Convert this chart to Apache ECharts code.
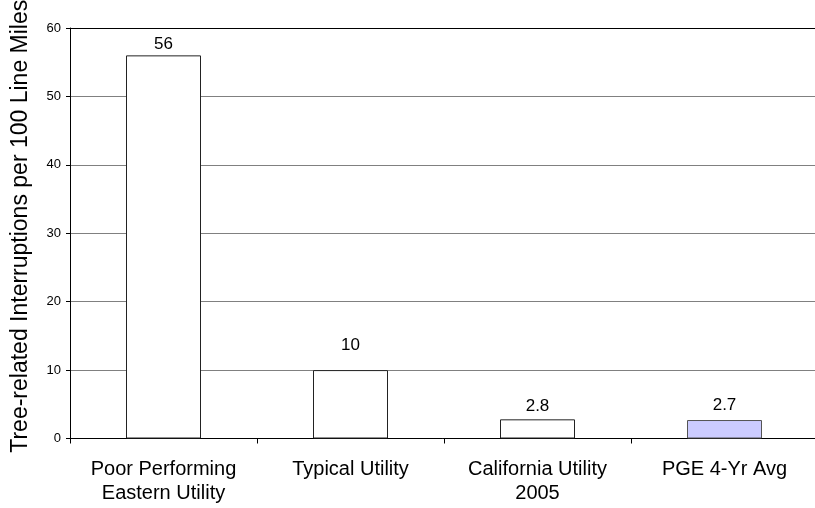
<!DOCTYPE html>
<html>
<head>
<meta charset="utf-8">
<script src="https://cdn.jsdelivr.net/npm/echarts@6/dist/echarts.min.js"></script>
<style>
  html, body { margin: 0; padding: 0; background: #fff; }
  #chart { width: 815px; height: 508px; }
</style>
</head>
<body>
<div id="chart"></div>
<script>
// Tree-related interruptions per 100 line miles, by utility
const categories = ['Poor Performing\nEastern Utility', 'Typical Utility', 'California Utility\n2005', 'PGE 4-Yr Avg'];
const values = [56, 10, 2.8, 2.7];
const barFills = ['#ffffff', '#ffffff', '#ffffff', '#ccccff'];
const labelGaps = [3, 16, 5, 6];
const yTicks = [0, 10, 20, 30, 40, 50, 60];

const FONT = 'Liberation Sans, Arial, sans-serif';

const chart = echarts.init(document.getElementById('chart'), null, { renderer: 'canvas' });

chart.setOption({
  animation: false,
  backgroundColor: '#ffffff',
  grid: {
    left: 70, top: 28, width: 748, bottom: 69.5,
    containLabel: false,
    outerBoundsMode: 'none'
  },
  xAxis: {
    type: 'category',
    data: categories,
    boundaryGap: true,
    axisLine: { lineStyle: { color: '#000', width: 1 } },
    axisTick: { show: true, length: 5, lineStyle: { color: '#000' } },
    axisLabel: {
      color: '#000', fontFamily: FONT, fontSize: 20, lineHeight: 24, margin: 19,
      interval: 0
    },
    splitLine: { show: false }
  },
  yAxis: {
    type: 'value',
    min: yTicks[0],
    max: yTicks[yTicks.length - 1],
    interval: 10,
    name: 'Tree-related Interruptions per 100 Line Miles',
    nameLocation: 'middle',
    nameGap: 38,
    nameTextStyle: { color: '#000', fontFamily: FONT, fontSize: 23, padding: [0, 0, 0, 14] },
    axisLine: { show: true, lineStyle: { color: '#000', width: 1 } },
    axisTick: { show: true, length: 4, lineStyle: { color: '#000' } },
    axisLabel: { color: '#000', fontFamily: FONT, fontSize: 13, margin: 9 },
    splitLine: {
      show: true,
      lineStyle: {
        width: 1,
        color: ['#808080', '#808080', '#808080', '#808080', '#808080', '#808080', '#000000']
      }
    }
  },
  series: [{
    type: 'bar',
    barWidth: 75,
    data: values.map((v, i) => ({
      value: v,
      itemStyle: { color: barFills[i], borderColor: i === 3 ? '#555' : '#222', borderWidth: 1 },
      label: { distance: labelGaps[i] }
    })),
    label: {
      show: true,
      position: 'top',
      color: '#000',
      fontFamily: FONT,
      fontSize: 17
    }
  }]
});
</script>
</body>
</html>
